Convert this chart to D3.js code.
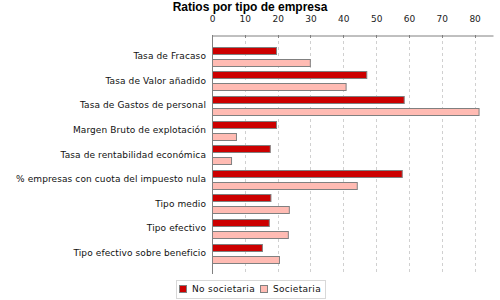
<!DOCTYPE html>
<html>
<head>
<meta charset="utf-8">
<script src="https://cdn.jsdelivr.net/npm/d3@7"></script>
<style>
  body { margin: 0; background: #fff; }
  svg { display: block; }
  text { font-family: "DejaVu Sans", sans-serif; }
</style>
</head>
<body>
<script>
'use strict';

const categories = [
    'Tasa de Fracaso',
    'Tasa de Valor añadido',
    'Tasa de Gastos de personal',
    'Margen Bruto de explotación',
    'Tasa de rentabilidad económica',
    '% empresas con cuota del impuesto nula',
    'Tipo medio',
    'Tipo efectivo',
    'Tipo efectivo sobre beneficio'
];
const seriesNames = ['No societaria', 'Societaria'];
const noSocietaria = [19.5, 47.0, 58.4, 19.5, 17.6, 57.8, 17.8, 17.3, 15.2];
const societaria   = [29.8, 40.7, 81.2, 7.3, 5.8, 44.1, 23.4, 23.1, 20.4];
const ticks = [0, 10, 20, 30, 40, 50, 60, 70, 80];
const colors = ['#cc0000', '#ffbbb3'];

const W = 500, H = 300;
const margin = {top: 35, right: 7, bottom: 26, left: 212};

const svg = d3.select('body').append('svg')
    .attr('width', W)
    .attr('height', H);

svg.append('text')
    .attr('x', 250)
    .attr('y', 11)
    .attr('text-anchor', 'middle')
    .style('font-family', '"Liberation Sans", Arial, sans-serif')
    .style('font-weight', 'bold')
    .style('font-size', '12px')
    .text('Ratios por tipo de empresa');

const x = d3.scaleLinear()
    .domain([0, 85.6])
    .range([margin.left, W - margin.right]);

const y = d3.scaleBand()
    .domain(categories)
    .range([margin.top, H - margin.bottom])
    .paddingInner(0.25)
    .paddingOuter(0.48);

const ySub = d3.scaleBand()
    .domain(seriesNames)
    .range([0, y.bandwidth()])
    .paddingInner(0.45)
    .paddingOuter(0);

// grid
svg.append('g')
    .selectAll('line')
    .data(ticks.slice(1))
    .enter().append('line')
        .attr('x1', d => Math.round(x(d)) + 0.5)
        .attr('x2', d => Math.round(x(d)) + 0.5)
        .attr('y1', margin.top)
        .attr('y2', H - margin.bottom)
        .style('stroke', '#d0d0d0')
        .style('stroke-dasharray', '3,3');

// bars
const rows = categories.map((c, i) => ({c, vals: [noSocietaria[i], societaria[i]]}));

const groups = svg.append('g')
    .selectAll('g')
    .data(rows)
    .enter().append('g')
        .attr('transform', d => 'translate(0,' + Math.round(y(d.c)) + ')');

groups.selectAll('rect')
    .data(d => d.vals.map((v, i) => ({v, s: seriesNames[i], i})))
    .enter().append('rect')
        .attr('x', Math.round(x(0)) + 0.5)
        .attr('y', d => Math.round(ySub(d.s)) + 0.5)
        .attr('width', d => x(d.v) - x(0))
        .attr('height', Math.round(ySub.bandwidth()))
        .style('fill', d => colors[d.i])
        .style('stroke', '#808080')
        .style('stroke-width', 1);

// top axis
const xAxis = d3.axisTop(x)
    .tickValues(ticks)
    .tickSize(0)
    .tickPadding(14);

const ax = svg.append('g')
    .attr('transform', 'translate(0,' + (margin.top + 0.5) + ')')
    .call(xAxis);
ax.select('.domain').style('stroke', '#808080');
ax.selectAll('text')
    .style('font-size', '9px')
    .style('fill', '#222');

svg.append('g')
    .selectAll('line')
    .data(ticks)
    .enter().append('line')
        .attr('x1', d => Math.round(x(d)) + 0.5)
        .attr('x2', d => Math.round(x(d)) + 0.5)
        .attr('y1', margin.top)
        .attr('y2', margin.top + 3)
        .style('stroke', '#808080');

// category axis
svg.append('line')
    .attr('x1', Math.round(x(0)) + 0.5)
    .attr('x2', Math.round(x(0)) + 0.5)
    .attr('y1', margin.top)
    .attr('y2', H - margin.bottom)
    .style('stroke', '#808080');

svg.append('g')
    .selectAll('text')
    .data(categories)
    .enter().append('text')
        .attr('x', margin.left - 6)
        .attr('y', d => y(d) + y.bandwidth() / 2)
        .attr('dy', '0.35em')
        .attr('text-anchor', 'end')
        .style('font-size', '9px')
        .style('letter-spacing', '0.1px')
        .style('fill', '#111')
        .text(d => d);

// legend
const legend = svg.append('g');
legend.append('rect')
    .attr('x', 176.5)
    .attr('y', 280.5)
    .attr('width', 149)
    .attr('height', 18)
    .style('fill', '#fff')
    .style('stroke', '#d8d8d8');

const legendX = [179, 260];
const items = legend.selectAll('g')
    .data(seriesNames)
    .enter().append('g')
        .attr('transform', (d, i) => 'translate(' + legendX[i] + ',285)');
items.append('rect')
    .attr('x', 0.5)
    .attr('y', 0.5)
    .attr('width', 7)
    .attr('height', 7)
    .style('fill', (d, i) => colors[i])
    .style('stroke', '#808080');
items.append('text')
    .attr('x', 13)
    .attr('y', 4)
    .attr('dy', '0.35em')
    .style('font-size', '9px')
    .style('letter-spacing', '0.3px')
    .style('fill', '#111')
    .text(d => d);
</script>
</body>
</html>
